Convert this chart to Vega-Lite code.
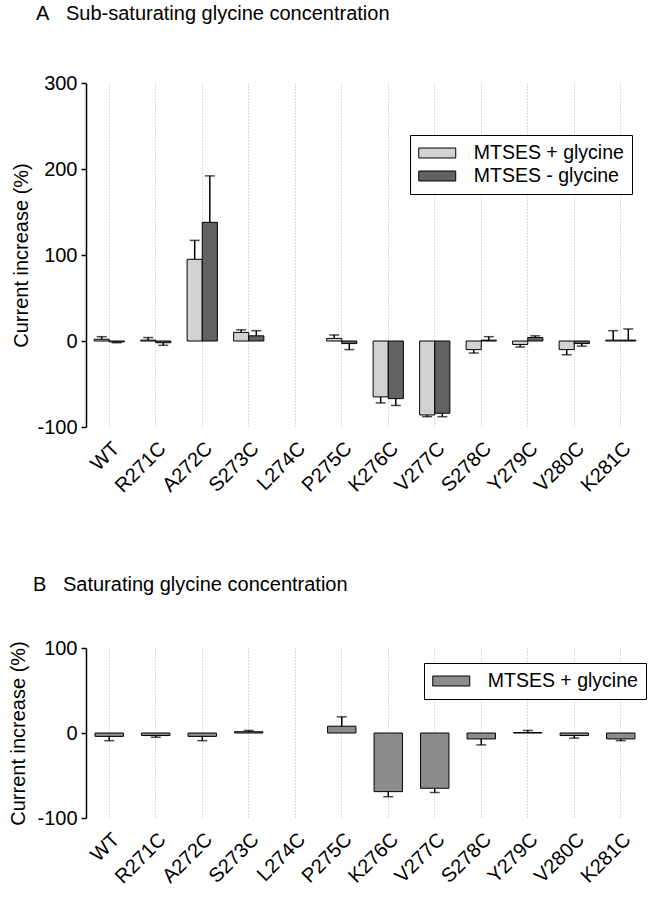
{
  "$schema": "https://vega.github.io/schema/vega-lite/v6.json",
  "background": "white",
  "padding": {"left": 8, "top": 4, "right": 5, "bottom": 5},
  "spacing": 78,
  "config": {
    "font": "Liberation Sans",
    "view": {"stroke": null},
    "axis": {"labelFont": "Liberation Sans", "titleFont": "Liberation Sans", "labelColor": "black", "titleColor": "black", "titleFontWeight": "normal", "domainColor": "black", "tickColor": "black"},
    "title": {"font": "Liberation Sans", "fontSize": 20, "fontWeight": "normal", "color": "black", "anchor": "start", "frame": "bounds"},
    "legend": {"labelFont": "Liberation Sans", "labelFontSize": 19.5, "labelColor": "black", "strokeColor": "black", "fillColor": "white", "padding": 8, "symbolType": "M-2,-0.54H2V0.54H-2Z", "symbolSize": 342, "symbolOffset": 9.25, "symbolStrokeColor": "black", "symbolStrokeWidth": 1, "symbolOpacity": 1, "rowPadding": 3, "labelOffset": 26.5}
  },
  "resolve": {"scale": {"x": "independent", "y": "independent", "color": "independent", "xOffset": "independent"}, "legend": {"color": "independent"}},
  "datasets": {
    "subsat": [
      {"mutant": "WT", "condition": "MTSES + glycine", "value": 2, "err": 5},
      {"mutant": "WT", "condition": "MTSES - glycine", "value": -1, "err": -2},
      {"mutant": "R271C", "condition": "MTSES + glycine", "value": 1, "err": 4},
      {"mutant": "R271C", "condition": "MTSES - glycine", "value": -2, "err": -5},
      {"mutant": "A272C", "condition": "MTSES + glycine", "value": 95, "err": 117},
      {"mutant": "A272C", "condition": "MTSES - glycine", "value": 138, "err": 192},
      {"mutant": "S273C", "condition": "MTSES + glycine", "value": 10, "err": 13},
      {"mutant": "S273C", "condition": "MTSES - glycine", "value": 6, "err": 12},
      {"mutant": "P275C", "condition": "MTSES + glycine", "value": 3, "err": 7},
      {"mutant": "P275C", "condition": "MTSES - glycine", "value": -3, "err": -10},
      {"mutant": "K276C", "condition": "MTSES + glycine", "value": -65, "err": -72},
      {"mutant": "K276C", "condition": "MTSES - glycine", "value": -67, "err": -75},
      {"mutant": "V277C", "condition": "MTSES + glycine", "value": -86, "err": -88},
      {"mutant": "V277C", "condition": "MTSES - glycine", "value": -84, "err": -88},
      {"mutant": "S278C", "condition": "MTSES + glycine", "value": -10, "err": -14},
      {"mutant": "S278C", "condition": "MTSES - glycine", "value": 1, "err": 5},
      {"mutant": "Y279C", "condition": "MTSES + glycine", "value": -4, "err": -7},
      {"mutant": "Y279C", "condition": "MTSES - glycine", "value": 4, "err": 6},
      {"mutant": "V280C", "condition": "MTSES + glycine", "value": -10, "err": -16},
      {"mutant": "V280C", "condition": "MTSES - glycine", "value": -3, "err": -6},
      {"mutant": "K281C", "condition": "MTSES + glycine", "value": 1, "err": 12},
      {"mutant": "K281C", "condition": "MTSES - glycine", "value": 1, "err": 14}
    ],
    "sat": [
      {"mutant": "WT", "condition": "MTSES + glycine", "value": -4, "err": -9},
      {"mutant": "R271C", "condition": "MTSES + glycine", "value": -3, "err": -5},
      {"mutant": "A272C", "condition": "MTSES + glycine", "value": -4, "err": -9},
      {"mutant": "S273C", "condition": "MTSES + glycine", "value": 1.5, "err": 3},
      {"mutant": "P275C", "condition": "MTSES + glycine", "value": 8, "err": 19},
      {"mutant": "K276C", "condition": "MTSES + glycine", "value": -69, "err": -75},
      {"mutant": "V277C", "condition": "MTSES + glycine", "value": -65, "err": -70},
      {"mutant": "S278C", "condition": "MTSES + glycine", "value": -7, "err": -14},
      {"mutant": "Y279C", "condition": "MTSES + glycine", "value": 0.5, "err": 3},
      {"mutant": "V280C", "condition": "MTSES + glycine", "value": -3, "err": -6},
      {"mutant": "K281C", "condition": "MTSES + glycine", "value": -7, "err": -9}
    ]
  },
  "vconcat": [
    {
      "title": {"text": "A\u00a0\u00a0\u00a0Sub-saturating glycine concentration", "dx": 24, "offset": 49},
      "width": 558,
      "height": 344,
      "data": {"name": "subsat"},
      "encoding": {
        "x": {"field": "mutant", "type": "nominal", "sort": null,
          "scale": {"domain": ["WT","R271C","A272C","S273C","L274C","P275C","K276C","V277C","S278C","Y279C","V280C","K281C"], "paddingInner": 0.35, "paddingOuter": 0.175},
          "axis": {"title": null, "labelAngle": -45, "labelAlign": "right", "labelBaseline": "top", "labelFontSize": 20, "domain": false, "ticks": false, "grid": true, "gridDash": [1, 2], "gridColor": "#b8b8b8", "gridWidth": 1, "bandPosition": 0.5, "labelPadding": 11}},
        "xOffset": {"field": "condition", "type": "nominal", "sort": null, "scale": {"domain": ["MTSES + glycine", "MTSES - glycine"], "paddingInner": 0, "paddingOuter": 0}}
      },
      "layer": [
        {
          "mark": {"type": "bar", "stroke": "black", "strokeWidth": 1},
          "encoding": {
            "y": {"field": "value", "type": "quantitative", "scale": {"domain": [-100, 300], "nice": false},
              "axis": {"title": "Current increase (%)", "values": [-100, 0, 100, 200, 300], "labelExpr": "'' + datum.value", "labelFontSize": 20, "titleFontSize": 20, "grid": false, "domainWidth": 1.5, "tickWidth": 1.5, "tickSize": 5, "labelPadding": 4, "titlePadding": 5}},
            "color": {"field": "condition", "type": "nominal", "sort": null,
              "scale": {"domain": ["MTSES + glycine", "MTSES - glycine"], "range": ["#d2d2d2", "#626262"]},
              "legend": {"title": null, "orient": "none", "legendX": 324, "legendY": 52}}
          }
        },
        {
          "mark": {"type": "rule", "color": "black", "strokeWidth": 1.5},
          "encoding": {"y": {"field": "value", "type": "quantitative"}, "y2": {"field": "err"}}
        },
        {
          "mark": {"type": "tick", "color": "black", "thickness": 1.5, "size": 10},
          "encoding": {"y": {"field": "err", "type": "quantitative"}}
        },
        {
          "mark": {"type": "rule", "color": "black", "strokeWidth": 1.5},
          "encoding": {"y": {"datum": 0}}
        }
      ]
    },
    {
      "title": {"text": "B\u00a0\u00a0\u00a0Saturating glycine concentration", "dx": 24, "offset": 43},
      "width": 558,
      "height": 170,
      "data": {"name": "sat"},
      "encoding": {
        "x": {"field": "mutant", "type": "nominal", "sort": null,
          "scale": {"domain": ["WT","R271C","A272C","S273C","L274C","P275C","K276C","V277C","S278C","Y279C","V280C","K281C"], "paddingInner": 0.39, "paddingOuter": 0.195},
          "axis": {"title": null, "labelAngle": -45, "labelAlign": "right", "labelBaseline": "top", "labelFontSize": 20, "domain": false, "ticks": false, "grid": true, "gridDash": [1, 2], "gridColor": "#b8b8b8", "gridWidth": 1, "bandPosition": 0.5, "labelPadding": 11}}
      },
      "layer": [
        {
          "mark": {"type": "bar", "stroke": "black", "strokeWidth": 1},
          "encoding": {
            "y": {"field": "value", "type": "quantitative", "scale": {"domain": [-100, 100], "nice": false},
              "axis": {"title": "Current increase (%)", "values": [-100, 0, 100], "labelExpr": "'' + datum.value", "labelFontSize": 20, "titleFontSize": 20, "grid": false, "domainWidth": 1.5, "tickWidth": 1.5, "tickSize": 5, "labelPadding": 4, "titlePadding": 8}},
            "color": {"field": "condition", "type": "nominal",
              "scale": {"domain": ["MTSES + glycine"], "range": ["#8c8c8c"]},
              "legend": {"title": null, "orient": "none", "legendX": 338, "legendY": 15}}
          }
        },
        {
          "mark": {"type": "rule", "color": "black", "strokeWidth": 1.5},
          "encoding": {"y": {"field": "value", "type": "quantitative"}, "y2": {"field": "err"}}
        },
        {
          "mark": {"type": "tick", "color": "black", "thickness": 1.5, "size": 10},
          "encoding": {"y": {"field": "err", "type": "quantitative"}}
        },
        {
          "mark": {"type": "rule", "color": "black", "strokeWidth": 1.5},
          "encoding": {"y": {"datum": 0}}
        }
      ]
    }
  ]
}
